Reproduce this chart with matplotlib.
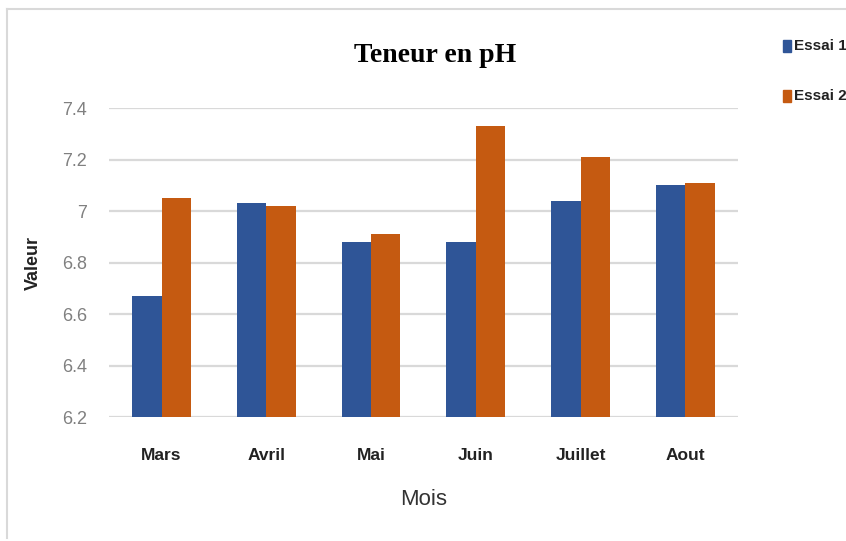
import numpy as np
import matplotlib.pyplot as plt
from matplotlib.lines import Line2D
from matplotlib.patches import Rectangle

# données : teneur en pH par mois
mois = ['Mars', 'Avril', 'Mai', 'Juin', 'Juillet', 'Aout']
essai1 = [6.67, 7.03, 6.88, 6.88, 7.04, 7.10]
essai2 = [7.05, 7.02, 6.91, 7.33, 7.21, 7.11]
yticks = [6.2, 6.4, 6.6, 6.8, 7.0, 7.2, 7.4]
ytick_labels = ['6.2', '6.4', '6.6', '6.8', '7', '7.2', '7.4']

sans = ['Liberation Sans', 'DejaVu Sans']
bleu = '#2F5597'
orange = '#C55A11'

fig = plt.figure(figsize=(8.46, 5.41), dpi=100)
ax = fig.add_axes([0.129, 0.229, 0.743, 0.571])

x = np.arange(len(mois))
w = 0.28
ax.bar(x - w / 2, essai1, w, color=bleu, zorder=3)
ax.bar(x + w / 2, essai2, w, color=orange, zorder=3)

ax.set_ylim(6.2, 7.4)
ax.set_xlim(-0.5, len(mois) - 0.5)
ax.set_yticks(yticks)
ax.set_yticklabels(ytick_labels, family=sans, fontsize=13, color='#808080')
ax.set_xticks(x)
ax.set_xticklabels(mois, family=sans, fontsize=12.5, fontweight='bold', color='#222222')
ax.tick_params(axis='y', length=0, pad=16)
ax.tick_params(axis='x', length=0, pad=22)
ax.grid(axis='y', color='#d9d9d9', linewidth=1.6, zorder=0)
for s in ax.spines.values():
    s.set_visible(False)

ax.set_xlabel('Mois', family=sans, fontsize=16, color='#333333', labelpad=19)
ax.set_ylabel('Valeur', family=sans, fontsize=13, fontweight='bold',
              color='#222222', labelpad=14)
fig.text(0.514, 0.898, 'Teneur en pH', ha='center', va='center',
         family=['Liberation Serif', 'DejaVu Serif'], fontsize=20, fontweight='bold')

# légende en haut à droite
for i, (lab, c) in enumerate([('Essai 1', bleu), ('Essai 2', orange)]):
    yy = 1 - (46 + 50 * i) / 541
    fig.patches.append(Rectangle((783 / 846, yy - 0.011), 8 / 846, 0.022,
                                 transform=fig.transFigure, color=c))
    fig.text(794 / 846, yy, lab, ha='left', va='center', family=sans,
             fontsize=11, fontweight='bold', color='#222222')

# cadre gris
fig.add_artist(Line2D([7 / 846, 1], [1 - 9 / 541, 1 - 9 / 541],
                      transform=fig.transFigure, color='#d9d9d9', lw=1.5))
fig.add_artist(Line2D([7 / 846, 7 / 846], [0.005, 1 - 9 / 541],
                      transform=fig.transFigure, color='#d9d9d9', lw=1.5))

fig.savefig('out.png', dpi=100)
